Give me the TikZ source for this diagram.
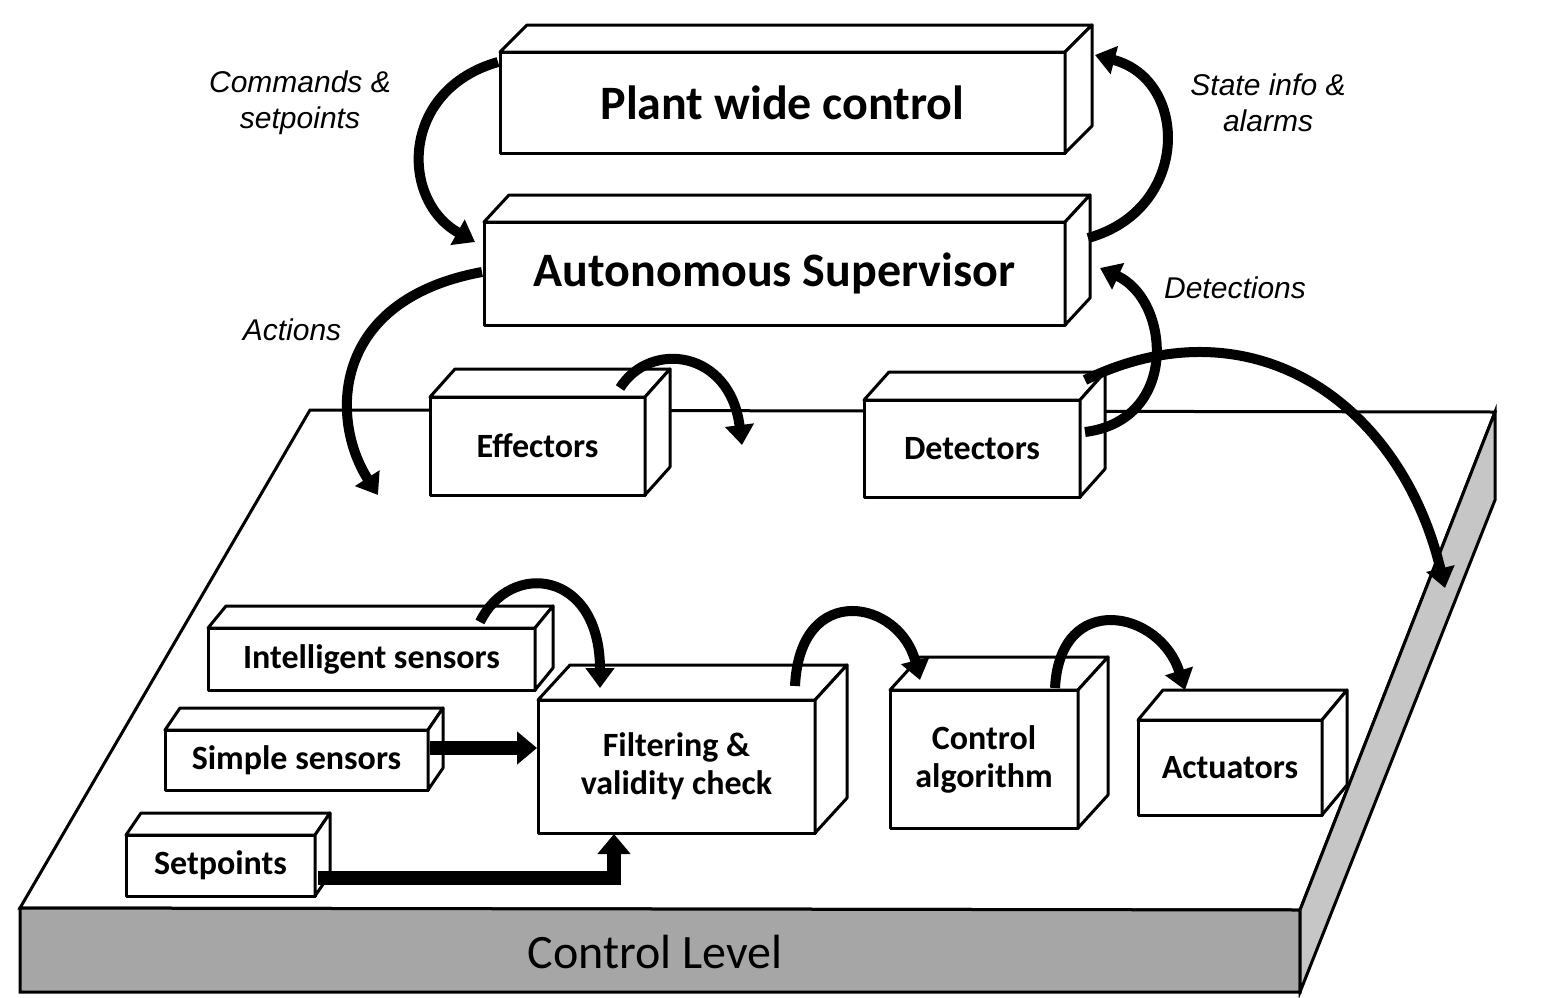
\documentclass[tikz,border=0pt]{standalone}
\usepackage{fontspec}
\setmainfont{Carlito}
\newfontfamily\lab{Liberation Sans}
\usetikzlibrary{arrows.meta}
\newcommand\tbox[8]{%
 \draw[bx] (#2,#3) rectangle (#4,#5);
 \draw[bx] (#2,#3) -- ++(#6,-#7) -- (#4+#6,#3-#7) -- (#4,#3) -- cycle;
 \draw[bx] (#4,#3) -- (#4+#6,#3-#7) -- (#4+#6,#5-#7) -- (#4,#5) -- cycle;
 \node[bt] (#1) at ({(#2+#4)/2},{(#3+#5)/2}) {#8};}
\begin{document}
\begin{tikzpicture}[x=0.5pt,y=-0.5pt,
 bx/.style={draw=black,fill=white,line width=1.5pt,line join=round},
 bt/.style={font=\bfseries\fontsize{17}{19}\selectfont,align=center},
 ar/.style={line width=5pt,-{Triangle[length=10pt,width=14pt]}},
 lb/.style={font=\lab\itshape\fontsize{15}{18}\selectfont,align=center}]
\useasboundingbox (0,0) rectangle (1543,997);
% platform
\draw[line width=1.5pt,fill=white] (310,410) -- (1495,412) -- (1300,910) -- (20,908) -- cycle;
\draw[line width=1.5pt,fill=gray!70] (20,908) -- (1300,910) -- (1300,992) -- (20,992) -- cycle;
\draw[line width=1.5pt,fill=gray!45] (1300,910) -- (1495,412) -- (1495,500) -- (1300,992) -- cycle;
\node[font=\fontsize{24}{26}\selectfont] (cl) at (655,952) {Control Level};
% upper boxes
\tbox{pwc}{500}{52}{1065}{153}{27}{27}{\fontsize{24}{26}\selectfont Plant wide control}
\tbox{as}{484}{222}{1065}{325}{25}{27}{\fontsize{24}{26}\selectfont Autonomous Supervisor}
\tbox{eff}{430}{397}{645}{495}{25}{28}{Effectors}
\tbox{det}{864}{400}{1080}{497}{25}{28}{Detectors}
\tbox{is}{208}{628}{535}{690}{18}{22}{Intelligent sensors}
\tbox{ss}{165}{730}{428}{790}{15}{22}{Simple sensors}
\tbox{sp}{126}{835}{315}{896}{15}{22}{Setpoints}
\tbox{fil}{538}{700}{815}{833}{32}{35}{Filtering \&\\validity check}
\tbox{ca}{890}{690}{1078}{828}{30}{33}{Control\\algorithm}
\tbox{act}{1138}{720}{1322}{815}{25}{30}{Actuators}
% arrows
\draw[ar] (498,62) .. controls (400,90) and (400,200) .. (475,242);
\draw[ar] (1088,238) .. controls (1190,210) and (1190,80) .. (1095,55);
\draw[ar] (482,272) .. controls (330,300) and (330,420) .. (378,495);
\draw[ar] (620,388) .. controls (650,340) and (730,350) .. (742,445);
\draw[ar] (1085,432) .. controls (1180,420) and (1170,300) .. (1100,268);
\draw[ar] (1085,380) .. controls (1250,300) and (1400,400) .. (1445,588);
\draw[ar] (480,622) .. controls (510,560) and (600,570) .. (600,688);
\draw[ar] (795,686) .. controls (800,580) and (900,600) .. (920,680);
\draw[ar] (1055,688) .. controls (1060,590) and (1160,610) .. (1185,690);
\draw[line width=7pt,-{Triangle[length=10pt,width=16pt]}] (430,748) -- (537,748);
\draw[line width=7pt,-{Triangle[length=10pt,width=16pt]}] (318,878) -- (614,878) -- (614,834);
% labels
\node[lb] (l1) at (300,103) {Commands \&\\setpoints};
\node[lb] (l2) at (1268,103) {State info \&\\alarms};
\node[lb] (l3) at (292,330) {Actions};
\node[lb] (l4) at (1235,288) {Detections};
\end{tikzpicture}
\end{document}
